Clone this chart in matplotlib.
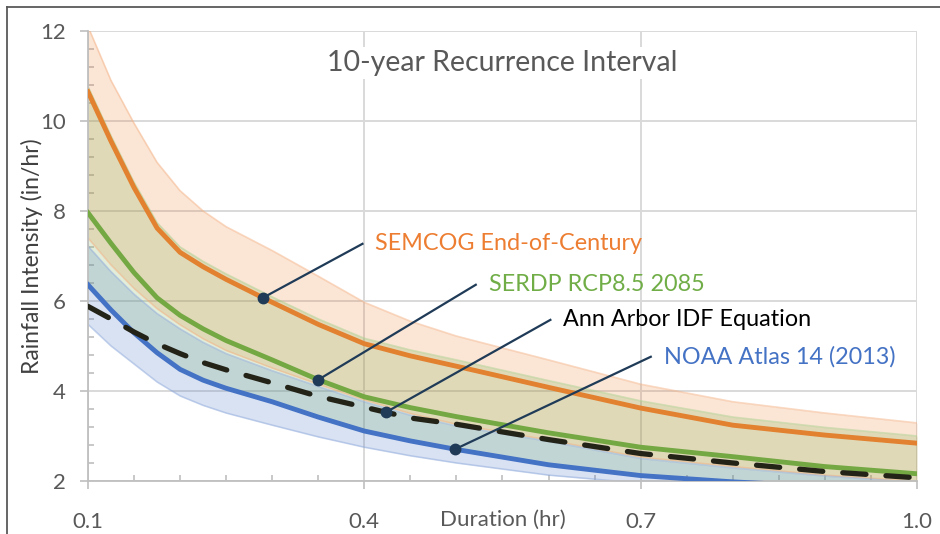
import numpy as np
import matplotlib
matplotlib.use("Agg")
import matplotlib.pyplot as plt
from matplotlib.lines import Line2D

plt.rcParams["font.family"] = ["Lato", "DejaVu Sans"]

# durations (hr)
durations = [0.1, 0.125, 0.15, 0.175, 0.2, 0.225, 0.25, 0.3, 0.35, 0.4,
             0.45, 0.5, 0.6, 0.7, 0.8, 0.9, 1.0]

# central curves (in/hr)
semcog = [10.65, 9.55, 8.52, 7.62, 7.08, 6.76, 6.48, 5.97, 5.48, 5.05,
          4.78, 4.55, 4.08, 3.62, 3.24, 3.02, 2.84]
serdp = [7.96, 7.28, 6.63, 6.07, 5.68, 5.38, 5.12, 4.69, 4.25, 3.87,
         3.63, 3.43, 3.07, 2.75, 2.54, 2.32, 2.16]
ann_arbor = [5.88, 5.60, 5.31, 5.05, 4.83, 4.63, 4.47, 4.18, 3.88, 3.64,
             3.40, 3.26, 2.92, 2.61, 2.40, 2.21, 2.07]
noaa = [6.36, 5.80, 5.29, 4.85, 4.48, 4.24, 4.06, 3.76, 3.42, 3.11,
        2.89, 2.70, 2.36, 2.12, 1.98, 1.88, 1.78]

# uncertainty bands
semcog_hi = [12.1, 10.9, 9.95, 9.08, 8.45, 8.0, 7.65, 7.12, 6.55, 5.97,
             5.55, 5.22, 4.69, 4.15, 3.76, 3.51, 3.29]
semcog_lo = [7.40, 6.80, 6.28, 5.83, 5.47, 5.16, 4.90, 4.51, 4.15, 3.80,
             3.50, 3.26, 2.91, 2.53, 2.32, 2.13, 1.99]
serdp_hi = [10.77, 9.67, 8.64, 7.74, 7.20, 6.88, 6.60, 6.09, 5.60, 5.17,
            4.91, 4.69, 4.23, 3.78, 3.42, 3.19, 3.00]
serdp_lo = noaa
noaa_hi = [7.22, 6.65, 6.15, 5.72, 5.38, 5.08, 4.83, 4.45, 4.10, 3.76,
           3.46, 3.22, 2.88, 2.50, 2.29, 2.11, 1.97]
noaa_lo = [5.48, 5.00, 4.60, 4.20, 3.89, 3.68, 3.51, 3.24, 2.98, 2.75,
           2.56, 2.40, 2.13, 1.95, 1.80, 1.70, 1.60]

# callouts: label, colour, anchor duration on its curve
labels = ["SEMCOG End-of-Century", "SERDP RCP8.5 2085",
          "Ann Arbor IDF Equation", "NOAA Atlas 14 (2013)"]
label_colors = ["#ED7D31", "#70AD47", "#000000", "#4472C4"]
anchor_x = [0.29, 0.35, 0.4235, 0.4985]
text_pos = [(0.402, 7.27), (0.525, 6.36), (0.606, 5.58), (0.715, 4.76)]

ORANGE = "#E2812F"
GREEN = "#74A843"
BLUE = "#4472C4"
NAVY = "#1F3B57"

fig = plt.figure(figsize=(9.4, 5.34), dpi=100)
ax = fig.add_axes([0.0936, 0.0993, 0.8819, 0.8427])

x = np.array(durations)
bands = [
    (semcog_lo, semcog_hi, "#ED7D31", "#F4B183"),
    (serdp_lo, serdp_hi, "#70AD47", "#A9D18E"),
    (noaa_lo, noaa_hi, "#4472C4", "#8FAADC"),
]
for lo, hi, fc, ec in bands:
    ax.fill_between(x, lo, hi, color=fc, alpha=0.2, lw=0, zorder=1)
    ax.plot(x, hi, color=ec, lw=1.2, alpha=0.5, zorder=1.5)
    ax.plot(x, lo, color=ec, lw=1.2, alpha=0.5, zorder=1.5)

ax.plot(x, semcog, color=ORANGE, lw=3.5, zorder=3, solid_joinstyle="round")
ax.plot(x, serdp, color=GREEN, lw=3.5, zorder=3, solid_joinstyle="round")
ax.plot(x, noaa, color=BLUE, lw=3.5, zorder=3, solid_joinstyle="round")
ax.plot(x, ann_arbor, color="#232318", lw=3.8, zorder=4,
        dashes=(4.4, 3.8), dash_capstyle="round")

series = [semcog, serdp, ann_arbor, noaa]
for lab, col, ax_x, (tx, ty), ys in zip(labels, label_colors, anchor_x,
                                        text_pos, series):
    ay = np.interp(ax_x, durations, ys)
    ax.plot([ax_x, tx - 0.004], [ay, ty], color=NAVY, lw=1.6, zorder=5)
    ax.plot([ax_x], [ay], "o", color=NAVY, ms=7.5, zorder=6)
    ax.text(tx + 0.01, ty, lab, color=col, fontsize=16.8,
            ha="left", va="center", zorder=6)

ax.text(0.5, 0.929, "10-year Recurrence Interval", transform=ax.transAxes,
        ha="center", va="center", fontsize=20.5, color="#595959", zorder=7,
        bbox=dict(facecolor="white", edgecolor="none", pad=2))

ax.set_xlim(0.1, 1.0)
ax.set_ylim(2, 12)
ax.set_xticks([0.1, 0.4, 0.7, 1.0])
ax.set_xticklabels(["0.1", "0.4", "0.7", "1.0"])
ax.set_xticks(np.arange(0.1, 1.001, 0.05), minor=True)
ax.set_yticks([2, 4, 6, 8, 10, 12])
ax.set_yticks(np.arange(2, 12.001, 0.4), minor=True)

ax.grid(True, which="major", color="#D9D9D9", lw=1.4, zorder=0)
ax.set_axisbelow(True)
for s in ["top", "right"]:
    ax.spines[s].set_visible(False)
for s in ["left", "bottom"]:
    ax.spines[s].set_color("#BFBFBF")
    ax.spines[s].set_linewidth(1.3)

ax.tick_params(which="major", direction="out", length=6, width=1.2,
               color="#BFBFBF", labelcolor="#595959", labelsize=16)
ax.tick_params(axis="x", which="major", pad=16)
ax.tick_params(axis="y", which="major", pad=10)
ax.tick_params(which="minor", direction="in", length=4, width=1.2,
               color="#BFBFBF")

ax.set_xlabel("Duration (hr)", fontsize=16, color="#595959")
ax.xaxis.set_label_coords(0.5, -0.087)
ax.xaxis.label.set_va("center")
ax.set_ylabel("Rainfall Intensity (in/hr)", fontsize=16.5, color="#404040")
ax.yaxis.set_label_coords(-0.0676, 0.5)
ax.yaxis.label.set_va("center")

# outer frame of the chart (only top and left edges are in view)
fig.add_artist(Line2D([7 / 940, 1], [1 - 6.5 / 534, 1 - 6.5 / 534],
                      color="#595959", lw=1.3, transform=fig.transFigure))
fig.add_artist(Line2D([7 / 940, 7 / 940], [0, 1 - 6.5 / 534],
                      color="#595959", lw=1.3, transform=fig.transFigure))

fig.savefig("out.png", dpi=100, facecolor="white")
